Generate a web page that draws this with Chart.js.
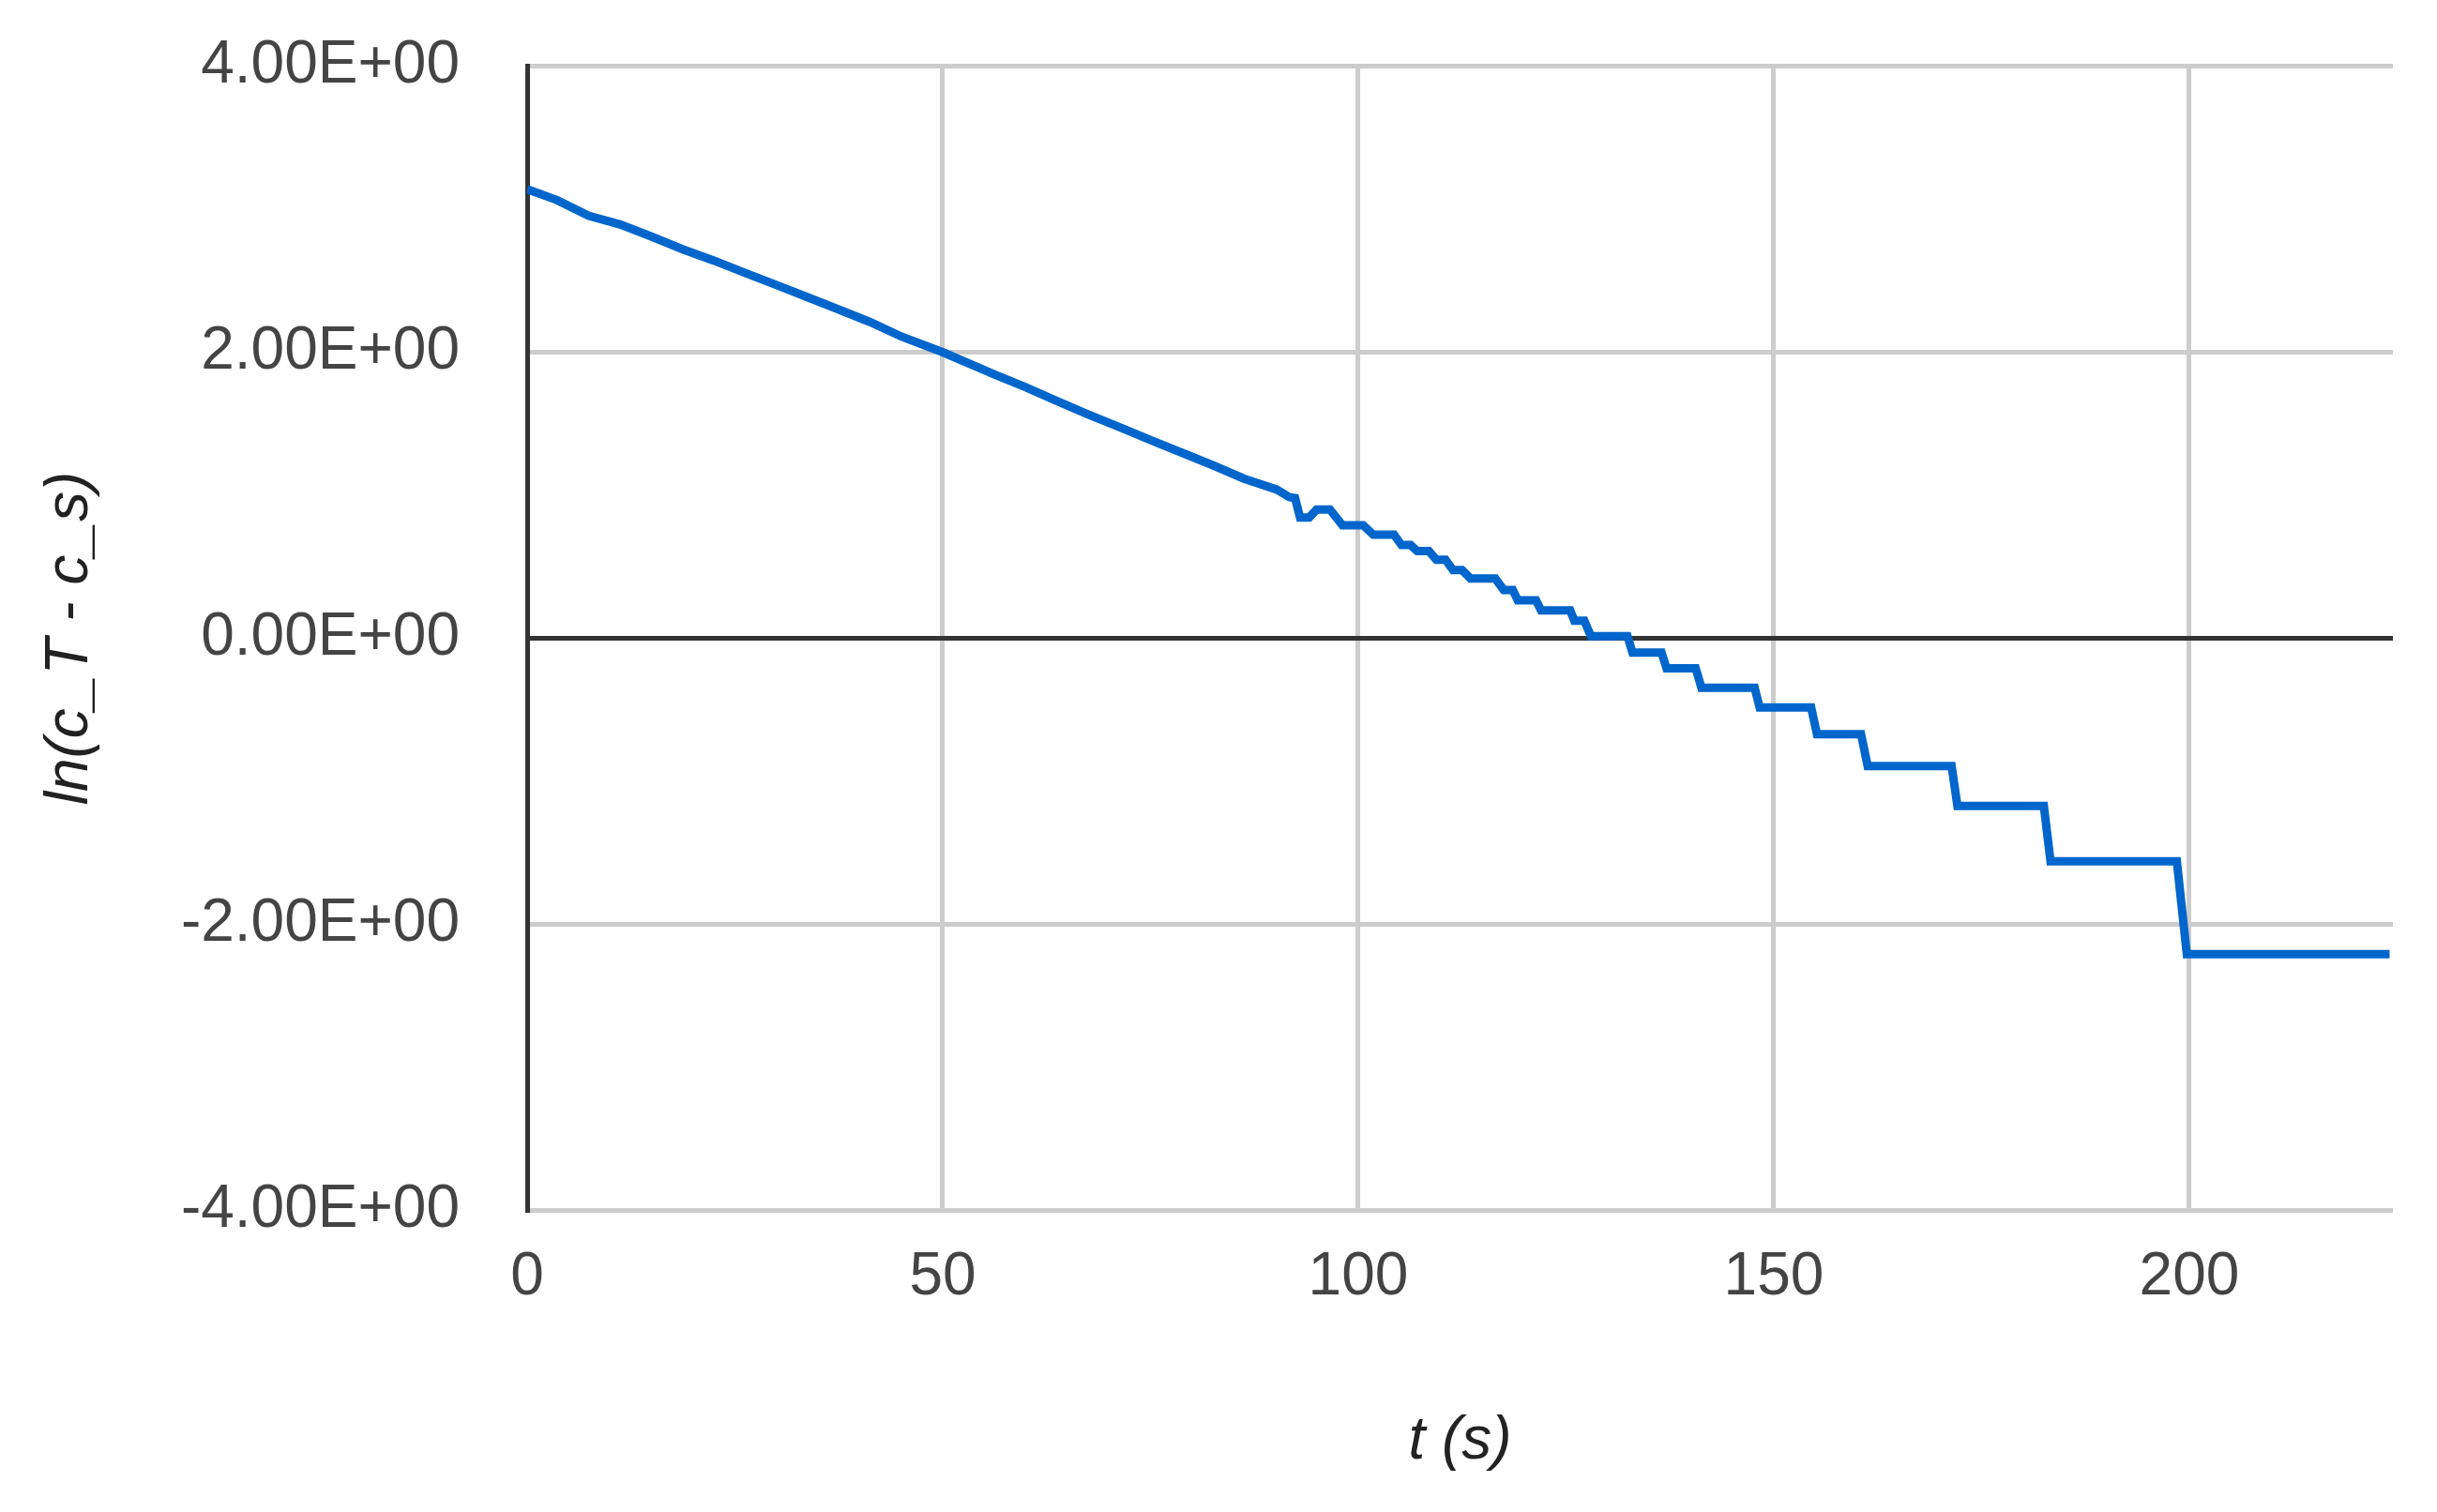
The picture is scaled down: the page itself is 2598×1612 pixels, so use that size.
<!DOCTYPE html>
<html>
<head>
<meta charset="utf-8">
<style>
  html, body { margin: 0; padding: 0; background: #ffffff; }
  #c { display: block; }
</style>
<script src="https://cdn.jsdelivr.net/npm/chart.js@4/dist/chart.umd.min.js"></script>
</head>
<body>
<canvas id="c" width="2598" height="1612"></canvas>
<script>
// ---- data ----
const tValues = [
  0, 3.6, 7.4, 11.2, 14.9, 18.7, 22.5, 26.2, 30, 33.7, 37.5, 41.3, 45, 50,
  56.2, 60, 63.7, 67.5, 71.2, 75, 78.8, 82.5, 86.3, 90.2, 91.7, 92.4, 93,
  94.1, 95, 96.6, 98.1, 100.6, 101.8, 104.3, 105.2, 106.3, 107.1, 108.5,
  109.4, 110.5, 111.4, 112.5, 113.5, 116.5, 117.5, 118.6, 119.2, 121.4,
  122, 125.5, 126, 127.2, 128, 132.4, 133, 136.5, 137.1, 140.6, 141.3,
  147.7, 148.3, 154.5, 155.2, 160.5, 161.3, 171.4, 172.1, 182.5, 183.3,
  198.5, 199.7, 224.1
];
const lnValues = [
  3.14, 3.063, 2.954, 2.893, 2.81, 2.72, 2.64, 2.555, 2.47, 2.385, 2.298, 2.21, 2.11, 2.0,
  1.845, 1.755, 1.66, 1.565, 1.478, 1.386, 1.297, 1.21, 1.115, 1.04, 0.987, 0.98, 0.845,
  0.845, 0.90, 0.90, 0.79, 0.79, 0.725, 0.725, 0.652, 0.652, 0.61, 0.61,
  0.55, 0.55, 0.477, 0.477, 0.418, 0.418, 0.338, 0.338, 0.266, 0.266,
  0.195, 0.195, 0.123, 0.123, 0.014, 0.014, -0.10, -0.10, -0.21, -0.21, -0.346,
  -0.346, -0.484, -0.484, -0.67, -0.67, -0.893, -0.893, -1.172, -1.172, -1.559,
  -1.559, -2.209, -2.209
];
const xTicks = [0, 50, 100, 150, 200];
const yTicks = [-4, -2, 0, 2, 4];
const xTitle = 't (s)';
const yTitle = 'ln(c_T - c_s)';

function sciLabel(v) {
  const parts = Number(v).toExponential(2).split('e');
  const sign = parts[1][0] === '-' ? '-' : '+';
  let e = parts[1].replace(/[+-]/, '');
  if (e.length < 2) e = '0' + e;
  return parts[0] + 'E' + sign + e;
}

const points = tValues.map((t, i) => ({ x: t, y: lnValues[i] }));

const FONT = "'Liberation Sans', Arial, sans-serif";

new Chart(document.getElementById('c'), {
  type: 'line',
  data: {
    datasets: [{
      data: points,
      borderColor: '#0066cc',
      borderWidth: 9,
      pointRadius: 0,
      pointHoverRadius: 0,
      tension: 0,
      fill: false,
      borderJoinStyle: 'miter'
    }]
  },
  options: {
    responsive: false,
    devicePixelRatio: 1,
    animation: false,
    events: [],
    layout: { padding: { left: 0, top: 70.5, right: 47, bottom: 0 } },
    plugins: {
      legend: { display: false },
      tooltip: { enabled: false },
      title: { display: false }
    },
    scales: {
      x: {
        type: 'linear',
        min: 0,
        max: 224.5,
        afterFit: (s) => { s.height = 321.5; s.paddingLeft = 0; s.paddingRight = 0; },
        afterBuildTicks: (s) => { s.ticks = xTicks.map(v => ({ value: v })); },
        ticks: {
          includeBounds: false,
          padding: 33,
          color: '#444444',
          font: { family: FONT, size: 64 },
          maxRotation: 0,
          callback: (v) => String(v)
        },
        grid: {
          drawTicks: false,
          lineWidth: 5,
          color: (ctx) => (ctx.tick && ctx.tick.value === 0) ? '#333333' : '#cccccc'
        },
        border: { display: false },
        title: {
          display: true,
          text: xTitle,
          color: '#222222',
          padding: { top: 0, bottom: 36 },
          font: { family: FONT, size: 64, style: 'italic' }
        }
      },
      y: {
        type: 'linear',
        min: -4,
        max: 4,
        afterFit: (s) => { s.width = 562; s.paddingTop = 0; s.paddingBottom = 0; },
        afterBuildTicks: (s) => { s.ticks = yTicks.map(v => ({ value: v })); },
        ticks: {
          padding: 72,
          color: '#444444',
          font: { family: FONT, size: 64 },
          callback: (v) => sciLabel(v)
        },
        grid: {
          drawTicks: false,
          lineWidth: 5,
          color: (ctx) => (ctx.tick && ctx.tick.value === 0) ? '#333333' : '#cccccc'
        },
        border: { display: true, color: '#333333', width: 5 },
        title: {
          display: true,
          text: yTitle,
          color: '#222222',
          padding: { top: 37, bottom: 0 },
          font: { family: FONT, size: 64, style: 'italic' }
        }
      }
    }
  }
});
</script>
</body>
</html>
